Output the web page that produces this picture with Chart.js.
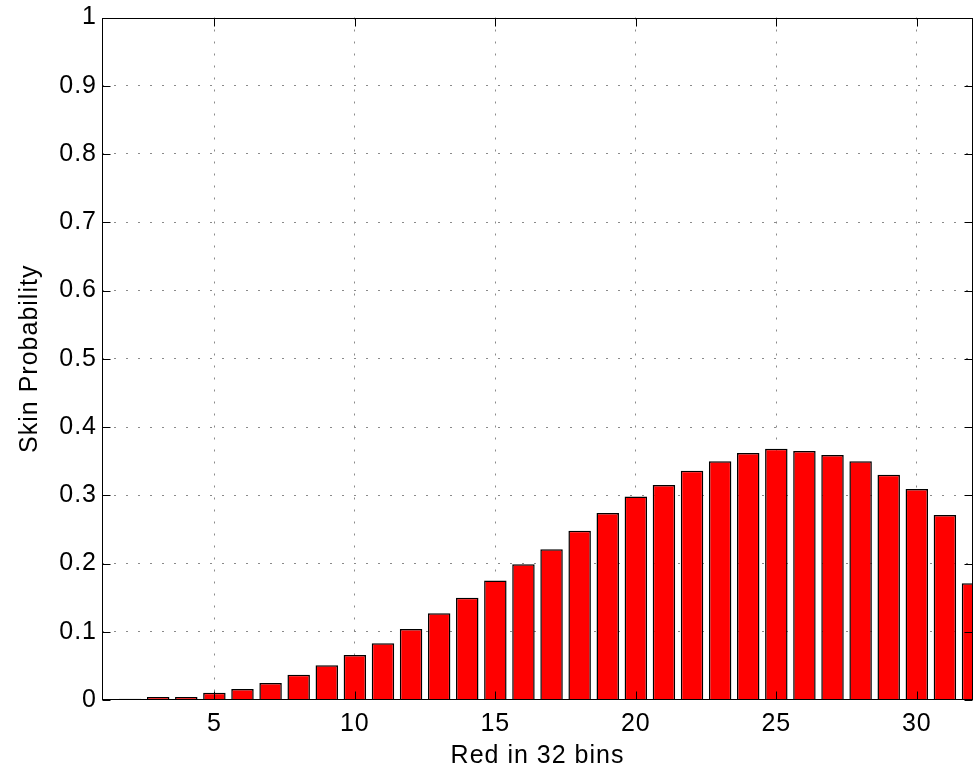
<!DOCTYPE html>
<html>
<head>
<meta charset="utf-8">
<title>Skin Probability by Red Bin</title>
<script src="https://cdn.jsdelivr.net/npm/chart.js@4.4.1/dist/chart.umd.min.js"></script>
<style>
  html, body { margin: 0; padding: 0; background: #ffffff; }
  #wrap { width: 976px; height: 767px; }
  canvas { display: block; }
</style>
</head>
<body>
<div id="wrap"><canvas id="chart" width="976" height="767"></canvas></div>
<script>
// Red channel quantised into 32 bins
const bins = [1, 2, 3, 4, 5, 6, 7, 8, 9, 10, 11, 12, 13, 14, 15, 16,
              17, 18, 19, 20, 21, 22, 23, 24, 25, 26, 27, 28, 29, 30, 31, 32];

// Probability of skin for each red bin
const skinProb = [0.0015, 0.002, 0.0045, 0.0045, 0.0105, 0.016, 0.025, 0.037,
                  0.051, 0.066, 0.083, 0.104, 0.127, 0.150, 0.175, 0.199,
                  0.221, 0.248, 0.274, 0.298, 0.315, 0.336, 0.350, 0.362,
                  0.368, 0.365, 0.359, 0.350, 0.330, 0.309, 0.271, 0.171];

// Axis ticks
const xTickValues = [5, 10, 15, 20, 25, 30];
const yTickValues = [0, 0.1, 0.2, 0.3, 0.4, 0.5, 0.6, 0.7, 0.8, 0.9, 1];
const yTickLabels = ['0', '0.1', '0.2', '0.3', '0.4', '0.5', '0.6', '0.7', '0.8', '0.9', '1'];

const FONT = "'Liberation Sans', Arial, Helvetica, sans-serif";
const FONT_SIZE = 25;

// Slightly looser letter spacing for all axis text
const textSpacing = {
  id: 'textSpacing',
  beforeDraw(chart) {
    if ('letterSpacing' in chart.ctx) chart.ctx.letterSpacing = '1px';
  }
};

// Box around the axes plus short inward tick marks on all four sides
const axesBox = {
  id: 'axesBox',
  afterDatasetsDraw(chart) {
    const { ctx, chartArea: a, scales } = chart;
    const L = Math.round(a.left) + 0.5, R = Math.round(a.right) - 0.5;
    const T = Math.round(a.top) + 0.5, B = Math.round(a.bottom) - 0.5;
    const len = 8;
    ctx.save();
    ctx.strokeStyle = '#000';
    ctx.lineWidth = 1;
    ctx.beginPath();
    scales.x.ticks.forEach(t => {
      const px = Math.round(scales.x.getPixelForValue(t.value)) + 0.5;
      ctx.moveTo(px, B); ctx.lineTo(px, B - len);
      ctx.moveTo(px, T); ctx.lineTo(px, T + len);
    });
    scales.y.ticks.forEach(t => {
      const py = Math.round(scales.y.getPixelForValue(t.value)) + 0.5;
      ctx.moveTo(L, py); ctx.lineTo(L + len, py);
      ctx.moveTo(R, py); ctx.lineTo(R - len, py);
    });
    ctx.stroke();
    ctx.strokeRect(L, T, R - L, B - T);
    ctx.restore();
  }
};

const gridColor = '#8a8a8a';

new Chart(document.getElementById('chart'), {
  type: 'bar',
  data: {
    datasets: [{
      data: bins.map((b, i) => ({ x: b, y: skinProb[i] })),
      backgroundColor: '#ff0000',
      borderColor: '#000000',
      borderWidth: 1.5,
      borderSkipped: 'start',
      categoryPercentage: 1.0,
      barPercentage: 0.8,
      clip: 0
    }]
  },
  options: {
    responsive: false,
    animation: false,
    devicePixelRatio: 1,
    layout: { padding: { left: 0, top: 15, right: 3, bottom: 0 } },
    plugins: {
      legend: { display: false },
      tooltip: { enabled: false }
    },
    scales: {
      x: {
        type: 'linear',
        min: 1,
        max: 32,
        offset: false,
        afterBuildTicks: s => { s.ticks = xTickValues.map(v => ({ value: v })); },
        afterFit: s => { s.height = 67; },
        grid: {
          offset: false,
          drawTicks: false,
          color: gridColor,
          lineWidth: 1
        },
        border: { display: false, dash: [2, 10] },
        ticks: {
          padding: 12,
          color: '#000',
          font: { family: FONT, size: FONT_SIZE, lineHeight: 1 },
          maxRotation: 0,
          callback: v => String(v)
        },
        title: {
          display: true,
          text: 'Red in 32 bins',
          color: '#000',
          padding: { top: 0, bottom: -2 },
          font: { family: FONT, size: FONT_SIZE, lineHeight: 1 }
        }
      },
      y: {
        min: 0,
        max: 1,
        afterBuildTicks: s => { s.ticks = yTickValues.map(v => ({ value: v })); },
        afterFit: s => { s.width = 102; },
        grid: {
          drawTicks: false,
          lineWidth: 1,
          color: c => (c.tick && (c.tick.value === 0 || c.tick.value === 1)) ? 'rgba(0,0,0,0)' : gridColor
        },
        border: { display: false, dash: [2, 10] },
        ticks: {
          padding: 5,
          color: '#000',
          font: { family: FONT, size: FONT_SIZE, lineHeight: 1 },
          callback: (v, i) => yTickLabels[i]
        },
        title: {
          display: true,
          text: 'Skin Probability',
          color: '#000',
          padding: { top: 18, bottom: 0 },
          font: { family: FONT, size: FONT_SIZE, lineHeight: 1 }
        }
      }
    }
  },
  plugins: [textSpacing, axesBox]
});
</script>
</body>
</html>
